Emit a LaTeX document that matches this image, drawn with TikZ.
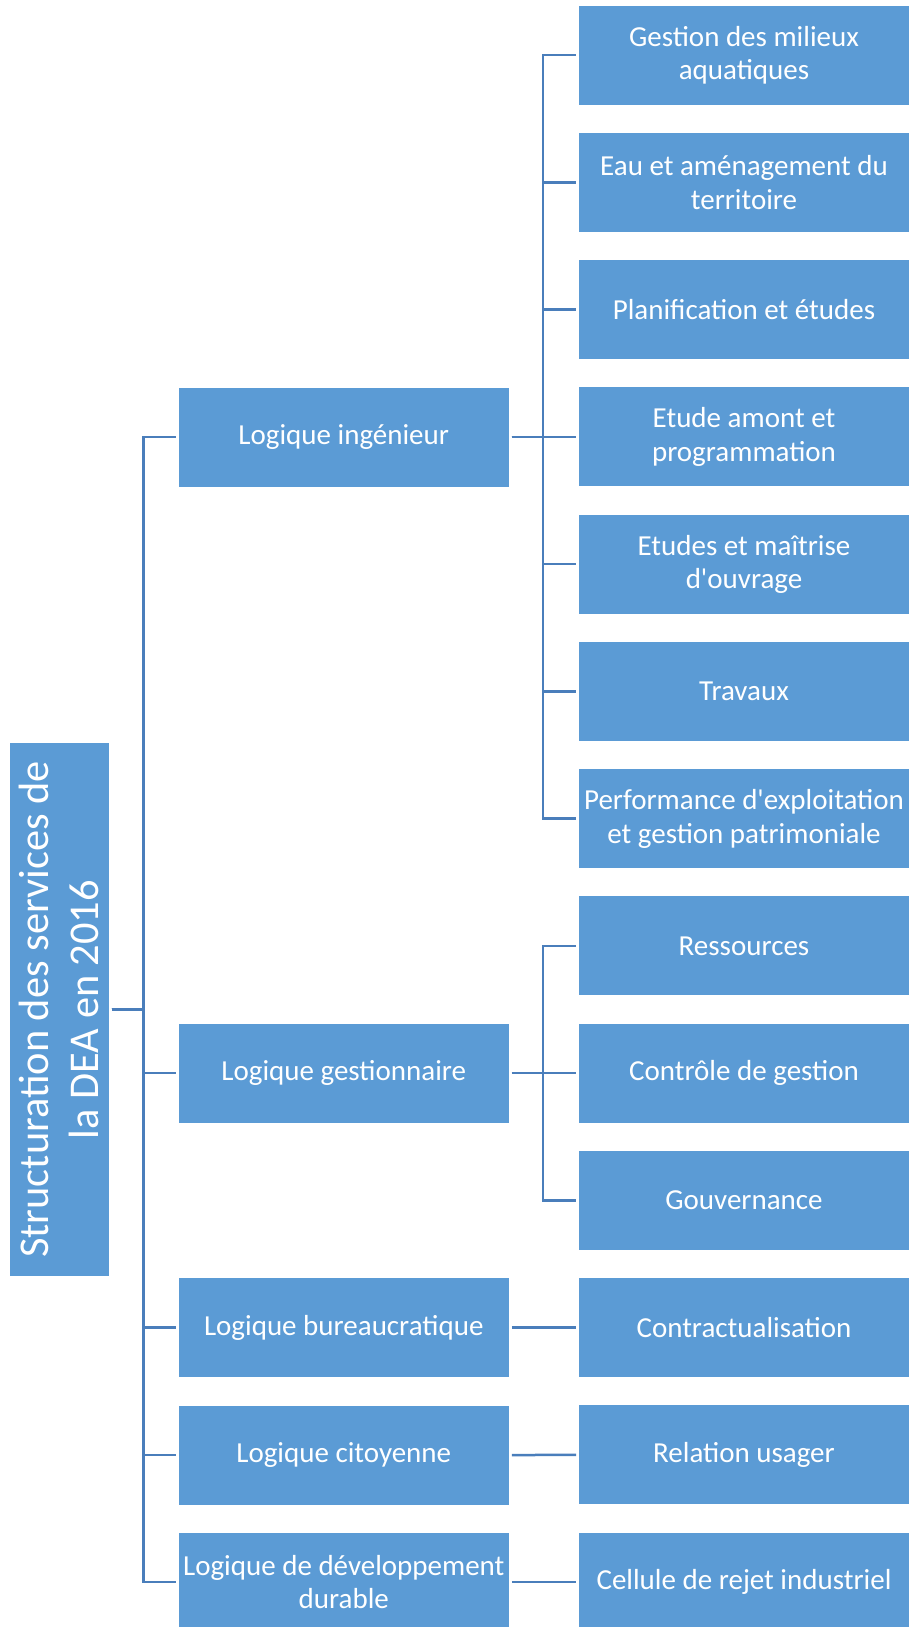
\documentclass[tikz,border=0pt]{standalone}
\usepackage{fontspec}
\setmainfont{Carlito}
\usepackage{xcolor}
\usetikzlibrary{positioning}
\definecolor{boxblue}{HTML}{5B9BD5}
\definecolor{lineblue}{HTML}{4A7EBB}
\tikzset{box/.style={rectangle, fill=boxblue, text=white, align=center,
                     minimum width=330pt, minimum height=99pt,
                     inner sep=0pt, outer sep=3pt,
                     font=\fontsize{29}{33.5}\selectfont},
         link/.style={draw=lineblue, line width=2.5pt}}

\begin{document}
\begin{tikzpicture}[x=1pt,y=-1pt]
\useasboundingbox (0,0) rectangle (909,1627);
%Root
\node[box, rotate=90, minimum width=533pt, minimum height=99pt,
      font=\fontsize{42.4}{50.5}\selectfont] at (59,1009.5) (root)
      {Structuration des services de\\la DEA en 2016};

%Logiques
\node[box] at (343.75,437) (ing){Logique ingénieur};
\node[box] at (343.75,1073.2) (ges){Logique gestionnaire};
\node[box] at (343.75,1327.7) (bur){Logique bureaucratique};
\node[box] at (343.75,1455) (cit){Logique citoyenne};
\node[box] at (343.75,1582.2) (dev){Logique de développement\\durable};

%Services
\foreach \i/\txt in {0/{Gestion des milieux\\aquatiques},
                     1/{Eau et aménagement du\\territoire},
                     2/{Planification et études},
                     3/{Etude amont et\\programmation},
                     4/{Etudes et maîtrise\\d\textquotesingle ouvrage},
                     5/{Travaux},
                     6/{Performance d\textquotesingle exploitation\\et gestion patrimoniale},
                     7/{Ressources},
                     8/{Contrôle de gestion},
                     9/{Gouvernance},
                     10/{Contractualisation},
                     11/{Relation usager},
                     12/{Cellule de rejet industriel}}
  \node[box] at (744,{55.2+127.25*\i}) (r\i){\txt};

%Links
\foreach \m in {ing,ges,bur,cit,dev}
  \draw[link] (root.south) -- ++(32,0) |- (\m.west);
\foreach \i in {0,...,6}
  \draw[link] (ing.east) -- ++(31,0) |- (r\i.west);
\foreach \i in {7,8,9}
  \draw[link] (ges.east) -- ++(31,0) |- (r\i.west);
\draw[link] (bur.east) -- (r10.west);
\draw[link] (cit.east) -- (r11.west);
\draw[link] (dev.east) -- (r12.west);

\end{tikzpicture}
\end{document}
